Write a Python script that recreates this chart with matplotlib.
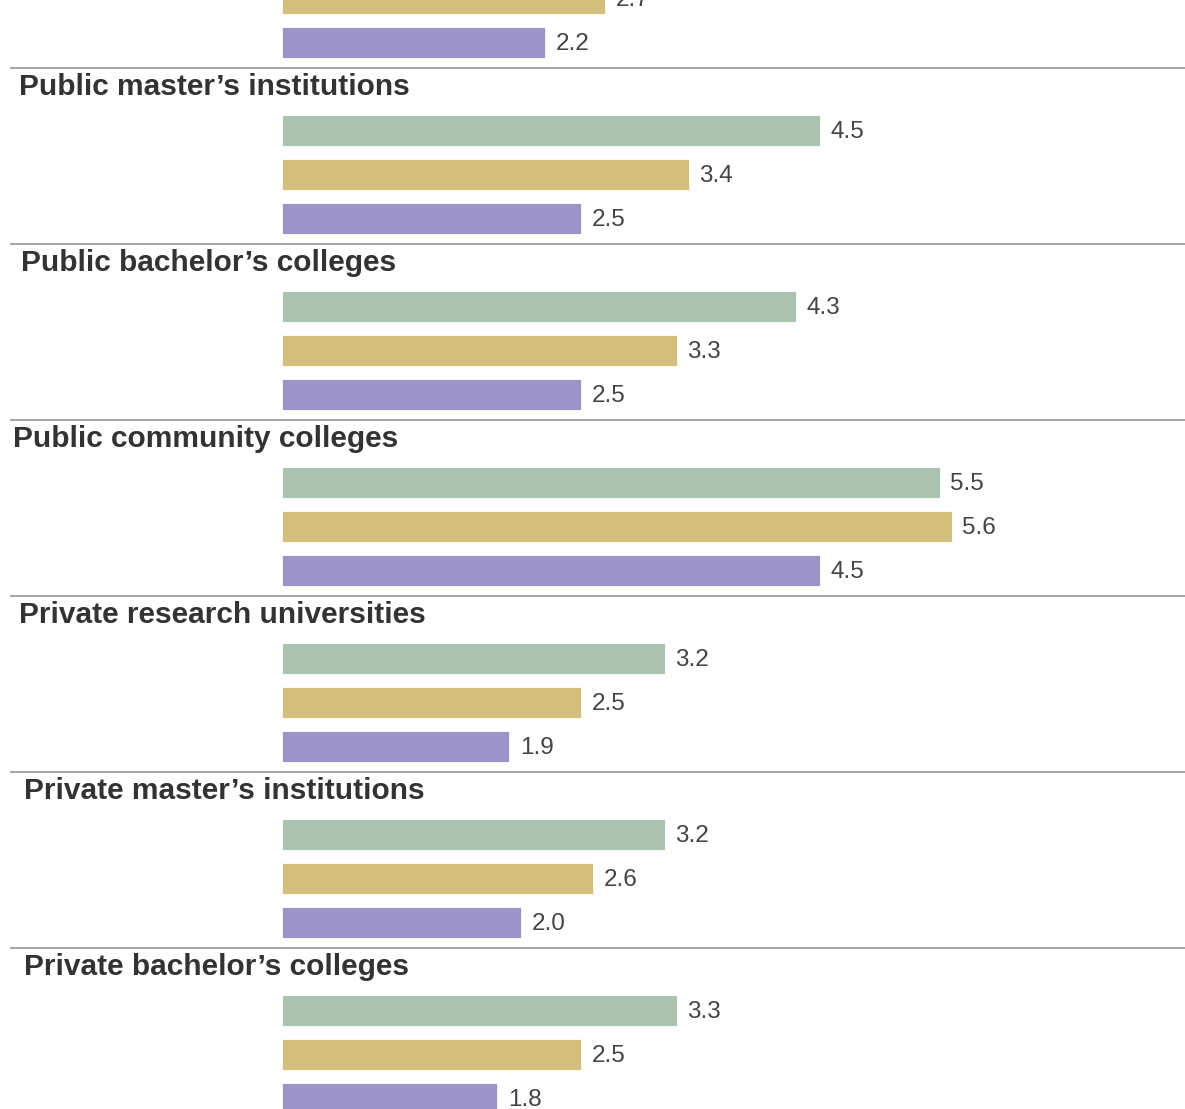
import matplotlib
matplotlib.use("Agg")
import matplotlib.pyplot as plt
import matplotlib.transforms as mtransforms

plt.rcParams["font.family"] = ["Liberation Sans", "DejaVu Sans"]

# Institution groups, top to bottom (first group is only partly in view)
groups = [
    "Public research universities",
    "Public master\u2019s institutions",
    "Public bachelor\u2019s colleges",
    "Public community colleges",
    "Private research universities",
    "Private master\u2019s institutions",
    "Private bachelor\u2019s colleges",
]

# Three series per group, drawn green / gold / purple
series_green = [None, 4.5, 4.3, 5.5, 3.2, 3.2, 3.3]
series_gold = [2.7, 3.4, 3.3, 5.6, 2.5, 2.6, 2.5]
series_purple = [2.2, 2.5, 2.5, 4.5, 1.9, 2.0, 1.8]

colors = ["#adc3b1", "#d2bf7c", "#9c94c9"]

# layout in pixels
W, H = 1185, 1109
bar_x0 = 282
px_per_unit = 119.6
group_step = 176
first_bar = 130 - group_step
bar_step = 44
bar_h = 31
header_x = [19, 19, 21, 13, 19, 24, 24]

fig = plt.figure(figsize=(W / 100, H / 100), dpi=100)
ax = fig.add_axes([0, 0, 1, 1])
ax.set_xlim(-bar_x0 / px_per_unit, (W - bar_x0) / px_per_unit)
ax.set_ylim(H, 0)
ax.axis("off")

px_x = mtransforms.blended_transform_factory(
    mtransforms.Affine2D().scale(1.0 / W) + ax.transAxes, ax.transData)

for gi, name in enumerate(groups):
    top = first_bar + gi * group_step
    # separator and group title
    ax.plot([10, W], [top - 62, top - 62], color="#a9a9a9", lw=1.5,
            transform=px_x, solid_capstyle="butt")
    ax.text(header_x[gi], top - 35, name, transform=px_x, fontsize=21.5,
            fontweight="bold", color="#333333", va="baseline", ha="left")
    vals = [series_green[gi], series_gold[gi], series_purple[gi]]
    for j, v in enumerate(vals):
        if v is None:
            continue
        y = top + j * bar_step
        ax.barh(y, v, height=bar_h, left=0, color=colors[j],
                edgecolor="#ffffff", linewidth=0.6)
        ax.annotate(f"{v:.1f}", xy=(v, y + 2.5), xytext=(7.5, 0),
                    textcoords="offset points", fontsize=17.5,
                    color="#444444", va="center", ha="left",
                    annotation_clip=False)

fig.savefig("out.png", dpi=100)
